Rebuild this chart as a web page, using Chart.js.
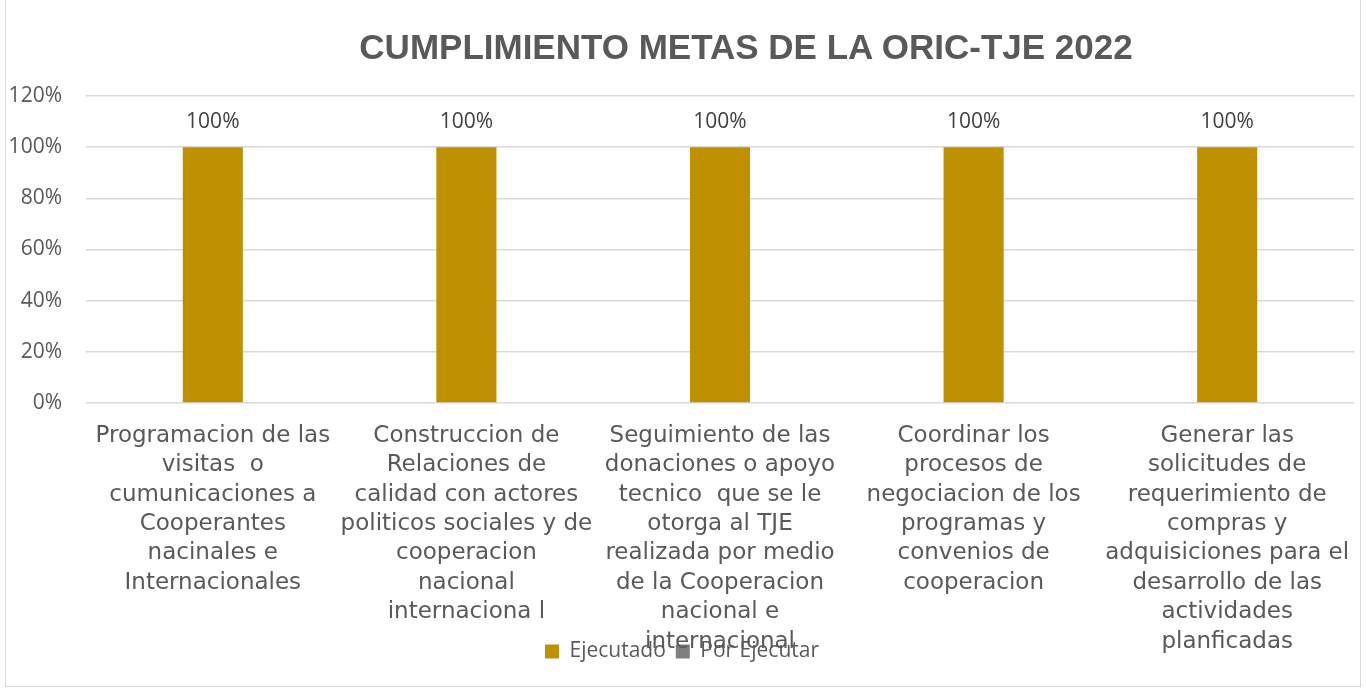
<!DOCTYPE html>
<html>
<head>
<meta charset="utf-8">
<script src="https://cdn.jsdelivr.net/npm/chart.js@4/dist/chart.umd.min.js"></script>
<style>
  html, body { margin: 0; padding: 0; background: #fff; }
  #wrap { position: relative; width: 1366px; height: 688px; overflow: hidden; }
  #frame { position: absolute; left: 5px; top: -1px; width: 1356px; height: 688px; border: 1px solid #d9d9d9; box-sizing: border-box; }
  #title {
    position: absolute; top: 27px; left: 746px; transform: translateX(-50%);
    white-space: nowrap; font: bold 35px "Liberation Sans", Arial, sans-serif; color: #595959;
  }
  canvas { position: absolute; left: 0; top: 0; }
</style>
</head>
<body>
<div id="wrap">
  <div id="frame"></div>
  <canvas id="chart" width="1366" height="688"></canvas>
  <div id="title">CUMPLIMIENTO METAS DE LA ORIC-TJE 2022</div>
</div>
<script>
const categories = [
  ['Programacion de las', 'visitas  o', 'cumunicaciones a', 'Cooperantes', 'nacinales e', 'Internacionales'],
  ['Construccion de', 'Relaciones de', 'calidad con actores', 'politicos sociales y de', 'cooperacion', 'nacional', 'internaciona l'],
  ['Seguimiento de las', 'donaciones o apoyo', 'tecnico  que se le', 'otorga al TJE', 'realizada por medio', 'de la Cooperacion', 'nacional e', 'internacional'],
  ['Coordinar los', 'procesos de', 'negociacion de los', 'programas y', 'convenios de', 'cooperacion'],
  ['Generar las', 'solicitudes de', 'requerimiento de', 'compras y', 'adquisiciones para el', 'desarrollo de las', 'actividades', 'planficadas'],
];
const ejecutado = [1, 1, 1, 1, 1];
const porEjecutar = [0, 0, 0, 0, 0];
const yTicks = [0, 0.2, 0.4, 0.6, 0.8, 1.0, 1.2];

const pct = v => Math.round(v * 100) + '%';

// value labels above the Ejecutado bars
const barLabels = {
  id: 'barLabels',
  afterDatasetsDraw(chart) {
    const ctx = chart.ctx;
    const meta = chart.getDatasetMeta(0);
    ctx.save();
    ctx.font = '21px "Open Sans", sans-serif';
    ctx.fillStyle = '#404040';
    ctx.textAlign = 'center';
    ctx.textBaseline = 'middle';
    meta.data.forEach((bar, i) => {
      ctx.fillText(pct(ejecutado[i]), bar.x, bar.y - 25);
    });
    ctx.restore();
  }
};

// legend is laid out at the top, then moved down so it sits over the last label lines like in Excel
const moveLegend = {
  id: 'moveLegend',
  afterLayout(chart) {
    const lg = chart.legend;
    const h = lg.bottom - lg.top;
    lg.top = 631;
    lg.bottom = 631 + h;
  }
};

new Chart(document.getElementById('chart'), {
  type: 'bar',
  data: {
    labels: categories,
    datasets: [
      { label: 'Ejecutado', data: ejecutado, backgroundColor: '#BF9000' },
      { label: 'Por Ejecutar', data: porEjecutar, backgroundColor: '#7F7F7F' },
    ],
  },
  options: {
    responsive: false,
    devicePixelRatio: 1,
    animation: false,
    layout: { padding: { top: 55, left: 10, right: 12, bottom: 30 } },
    datasets: { bar: { categoryPercentage: 0.237, barPercentage: 1 } },
    plugins: {
      tooltip: { enabled: false },
      title: { display: false },
      legend: {
        position: 'top',
        labels: {
          boxWidth: 14,
          boxHeight: 14,
          padding: 10,
          color: '#595959',
          font: { family: '"Open Sans", sans-serif', size: 21 },
        },
      },
    },
    scales: {
      x: {
        stacked: true,
        grid: { display: false },
        border: { display: false },
        ticks: {
          autoSkip: false,
          maxRotation: 0,
          padding: 10,
          color: '#595959',
          font: { family: '"DejaVu Sans", sans-serif', size: 23, lineHeight: 1.28 },
        },
        afterFit(scale) {
          scale.height = 255;
          scale.paddingLeft = 0;
          scale.paddingRight = 0;
        },
      },
      y: {
        stacked: true,
        min: 0,
        max: 1.2,
        afterBuildTicks(scale) { scale.ticks = yTicks.map(v => ({ value: v })); },
        afterFit(scale) { scale.width = 76; },
        grid: { color: '#d9d9d9', lineWidth: 1.5, drawTicks: false },
        border: { display: false },
        ticks: {
          padding: 24,
          color: '#595959',
          font: { family: '"Open Sans", sans-serif', size: 21 },
          callback: v => pct(v),
        },
      },
    },
  },
  plugins: [barLabels, moveLegend],
});
</script>
</body>
</html>
